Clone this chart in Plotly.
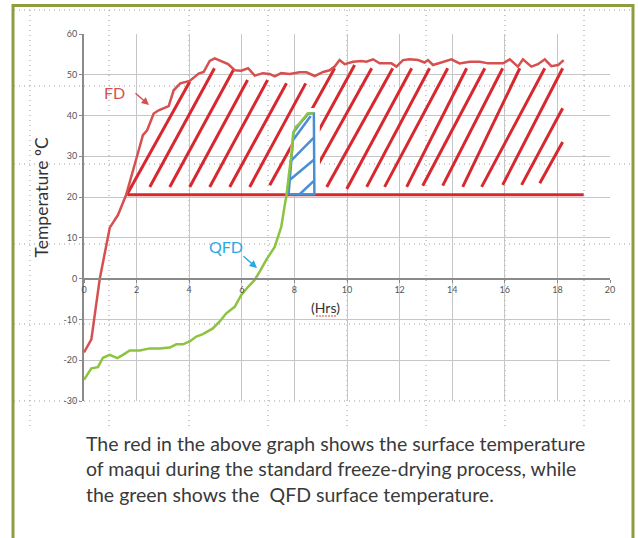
import plotly.graph_objects as go

# ---------------- data ----------------
fd_hours = [0, 0.28, 0.6, 0.98, 1.29, 1.6, 2.08, 2.24, 2.4, 2.65, 2.84, 3.22, 3.41, 3.66, 4.02,
            4.36, 4.55, 4.78, 4.97, 5.48, 5.73, 5.98, 6.24, 6.49, 6.8, 7.06, 7.25, 7.5, 7.82,
            8.2, 8.46, 8.77, 9.09, 9.34, 9.53, 9.72, 9.91, 10.23, 10.55, 10.74, 10.99, 11.24,
            11.69, 11.88, 12.13, 12.38, 12.7, 12.95, 13.08, 13.27, 13.52, 13.97, 14.28, 14.67,
            15.05, 15.37, 15.94, 16.19, 16.5, 16.69, 17.01, 17.26, 17.52, 17.77, 18.03, 18.24]
fd_temp = [-18.1, -14.9, 0, 12.5, 15.6, 20.5, 31.5, 35.2, 36.4, 40.5, 41.3, 42.3, 46.2, 47.9, 48.5,
           50.3, 50.7, 53.4, 54.0, 52.6, 51.1, 51.0, 51.6, 49.8, 50.4, 50.2, 49.6, 50.4, 50.2,
           50.6, 50.6, 49.7, 50.7, 51.1, 52.0, 53.6, 52.6, 53.2, 53.4, 53.2, 53.8, 52.8,
           52.8, 52.0, 53.6, 53.8, 53.6, 53.0, 53.6, 52.4, 52.9, 53.8, 52.8, 53.2,
           53.2, 52.8, 52.8, 53.8, 52.0, 53.8, 52.0, 52.6, 53.8, 52.1, 52.4, 53.6]

qfd_hours = [0, 0.28, 0.53, 0.72, 0.98, 1.27, 1.48, 1.74, 2.12, 2.5, 2.88, 3.26, 3.51, 3.76, 4.02,
             4.27, 4.52, 4.9, 5.16, 5.41, 5.73, 5.98, 6.24, 6.49, 6.68, 6.93, 7.25, 7.5, 7.62,
             7.7, 7.8, 7.9, 7.95, 8.05, 8.2, 8.5, 8.71]
qfd_temp = [-24.8, -22.0, -21.7, -19.4, -18.7, -19.5, -18.7, -17.6, -17.6, -17.1, -17.1, -16.9,
            -16.1, -16.1, -15.4, -14.2, -13.6, -12.2, -10.5, -8.5, -6.9, -4.0, -2.0, -0.3, 1.7,
            4.6, 7.8, 12.7, 17.5, 20.5, 26.0, 31.0, 35.5, 37.2, 38.1, 40.5, 40.5]

# red hatching (start / end of each stroke, hours and degC)
hatch_x0 = [1.63, 2.50, 3.26, 4.02, 4.78, 5.54, 6.30, 7.06, 7.75, 8.43, 9.23, 9.99, 10.75,
            11.43, 12.27, 12.88, 13.64, 14.40, 15.12, 15.92, 16.64, 17.33]
hatch_y0 = [20.6, 22.5, 22.5, 22.5, 22.5, 22.5, 22.5, 22.9, 22.5, 22.5, 22.5, 22.0, 22.5,
            22.5, 22.5, 22.8, 22.8, 22.5, 22.5, 23.0, 23.0, 23.4]
hatch_x1 = [4.02, 4.96, 5.70, 6.22, 6.98, 7.70, 8.43, 9.53, 10.29, 10.94, 11.74, 12.46, 13.14,
            13.83, 14.55, 15.24, 15.92, 16.57, 17.52, 18.20, 18.20, 18.20]
hatch_y1 = [48.3, 51.6, 51.4, 48.7, 48.7, 47.9, 47.9, 51.6, 52.4, 51.6, 51.6, 51.6, 51.6,
            51.6, 51.6, 51.6, 51.6, 51.6, 51.6, 51.6, 41.8, 33.5]

base_hours = [1.65, 19.0]
base_temp = [20.6, 20.6]

# blue QFD area
box_hours = [7.78, 7.97, 8.22, 8.54, 8.74, 8.76, 7.78]
box_temp = [20.7, 36.0, 38.1, 40.5, 40.5, 20.7, 20.7]
bhatch_x0 = [7.95, 7.82, 7.82, 8.20]
bhatch_y0 = [34.0, 28.6, 24.2, 20.7]
bhatch_x1 = [8.62, 8.73, 8.73, 8.73]
bhatch_y1 = [39.9, 34.5, 29.1, 23.9]

x_ticks = [0, 2, 4, 6, 8, 10, 12, 14, 16, 18, 20]
x_ticktext = ["0", "2", "4", "6", "8", "10", "12", "14", "16", "18", "20"]
y_ticks = [-30, -20, -10, 0, 10, 20, 30, 40, 50, 60]
y_ticktext = ["-30", "-20", "-10", "0", "10", "20", "30", "40", "50", "60"]

caption = ("The red in the above graph shows the surface temperature<br>"
           "of maqui during the standard freeze-drying process, while<br>"
           "the green shows the  QFD surface temperature.")

# ---------------- layout geometry (window pixels) ----------------
W, H = 638, 538
S_LEFT, S_RIGHT, S_TOP, S_BOTTOM = 84, 610, 34, 401
L, T = S_LEFT, S_TOP
R, B = W - S_RIGHT, H - S_BOTTOM
PW, PH = S_RIGHT - S_LEFT, S_BOTTOM - S_TOP


def px(xs):
    return (xs - S_LEFT) / PW


def py(ys):
    return (S_BOTTOM - ys) / PH


def segs(x0, y0, x1, y1):
    xs, ys = [], []
    for a, b, c, d in zip(x0, y0, x1, y1):
        xs += [a, c, None]
        ys += [b, d, None]
    return xs, ys


RED = "#d7282f"
FDRED = "#d65050"
GREEN = "#8cc43f"
BLUE = "#4a8fd4"

fig = go.Figure()

hx, hy = segs(hatch_x0, hatch_y0, hatch_x1, hatch_y1)
fig.add_trace(go.Scatter(x=hx, y=hy, mode="lines", line=dict(color=RED, width=3),
                         hoverinfo="skip"))

# white mask behind the blue area (covers hatch strokes)
pad_x, pad_y = 0.2, 1.2
mask_x = [box_hours[0] - 0.05, box_hours[1] - 0.05, box_hours[2], box_hours[3] - 0.1,
          box_hours[4] + pad_x, box_hours[5] + pad_x, box_hours[6] - 0.05]
mask_y = [box_temp[0], box_temp[1], box_temp[2] + pad_y, box_temp[3] + pad_y,
          box_temp[4] + pad_y, box_temp[5], box_temp[6]]
fig.add_trace(go.Scatter(x=mask_x, y=mask_y, mode="lines", fill="toself",
                         fillcolor="white", line=dict(color="white", width=1),
                         hoverinfo="skip"))

fig.add_trace(go.Scatter(x=base_hours, y=base_temp, mode="lines",
                         line=dict(color=RED, width=3), hoverinfo="skip"))

fig.add_trace(go.Scatter(x=box_hours, y=box_temp, mode="lines",
                         line=dict(color=BLUE, width=2.5), hoverinfo="skip"))
bx, by = segs(bhatch_x0, bhatch_y0, bhatch_x1, bhatch_y1)
fig.add_trace(go.Scatter(x=bx, y=by, mode="lines", line=dict(color=BLUE, width=2.5),
                         hoverinfo="skip"))

fig.add_trace(go.Scatter(x=fd_hours, y=fd_temp, mode="lines",
                         line=dict(color=FDRED, width=2.5), name="FD"))
fig.add_trace(go.Scatter(x=qfd_hours, y=qfd_temp, mode="lines",
                         line=dict(color=GREEN, width=2.5), name="QFD"))

# ---------------- decorations ----------------
shapes = []
dot = dict(color="#9c9c9c", width=1, dash="1px,4px")
for xs in [30, 109, 189, 268, 347, 426, 505, 584]:
    shapes.append(dict(type="line", xref="paper", yref="paper", x0=px(xs), x1=px(xs),
                       y0=py(10), y1=py(428), line=dot, layer="below"))
for ys in [10, 86, 164, 244, 324, 401]:
    shapes.append(dict(type="line", xref="paper", yref="paper", x0=px(14), x1=px(631),
                       y0=py(ys), y1=py(ys), line=dot, layer="below"))
# olive frame
shapes.append(dict(type="rect", xref="paper", yref="paper", x0=px(13), x1=px(633),
                   y0=py(560), y1=py(5.5), line=dict(color="#8d9d40", width=3)))
# spell-check squiggle under Hrs
shapes.append(dict(type="line", xref="paper", yref="paper", x0=px(316), x1=px(337),
                   y0=py(316), y1=py(316), line=dict(color="#e04040", width=1, dash="2px,1px")))


def label(text, xs, ys, size, color, angle=0):
    return dict(text=text, xref="paper", yref="paper", x=px(xs), y=py(ys),
                xanchor="center", yanchor="middle", textangle=angle, showarrow=False,
                font=dict(family="Lato", size=size, color=color))


annotations = [
    label("Temperature ºC", 41, 197.5, 17.5, "#333333", -90),
    label("(Hrs)", 325, 308, 14, "#333333"),
    label("FD", 114, 92, 16, "#d65050"),
    dict(text="", xref="paper", yref="paper", x=px(149), y=py(105), ax=-15, ay=-13,
         showarrow=True, arrowhead=2, arrowsize=1, arrowwidth=1.5, arrowcolor="#d65050"),
    label("QFD", 226, 246, 16, "#29a9e0"),
    dict(text="", xref="paper", yref="paper", x=px(257), y=py(268), ax=-15, ay=-13,
         showarrow=True, arrowhead=2, arrowsize=1, arrowwidth=1.5, arrowcolor="#29a9e0"),
    dict(text=caption, xref="paper", yref="paper", x=px(84), y=py(430),
         xanchor="left", yanchor="top", align="left", showarrow=False,
         font=dict(family="Lato", size=19.5, color="#3a3a3a")),
]

fig.update_layout(
    width=W, height=H,
    margin=dict(l=L, r=R, t=T, b=B),
    paper_bgcolor="white", plot_bgcolor="white",
    showlegend=False,
    shapes=shapes, annotations=annotations,
    xaxis=dict(range=[0, 20], tickvals=x_ticks, ticktext=x_ticktext, showgrid=True,
               gridcolor="#c6c6c6", gridwidth=1, zeroline=False, anchor="free", position=1 / 3,
               showline=True, linecolor="#8a8a8a", linewidth=2, ticks="outside", ticklen=3,
               tickcolor="#8a8a8a", tickfont=dict(family="Lato", size=9, color="#555555")),
    yaxis=dict(range=[-30, 60], tickvals=y_ticks, ticktext=y_ticktext, showgrid=True,
               gridcolor="#c6c6c6", gridwidth=1, zeroline=False, showline=True,
               linecolor="#8a8a8a", linewidth=2, ticks="outside", ticklen=3,
               tickcolor="#8a8a8a", tickfont=dict(family="Lato", size=9, color="#555555")),
)

fig.write_html(
    "out.html",
    config={"displayModeBar": False},
    post_script="document.body.style.margin='0';document.body.style.overflow='hidden';",
)
